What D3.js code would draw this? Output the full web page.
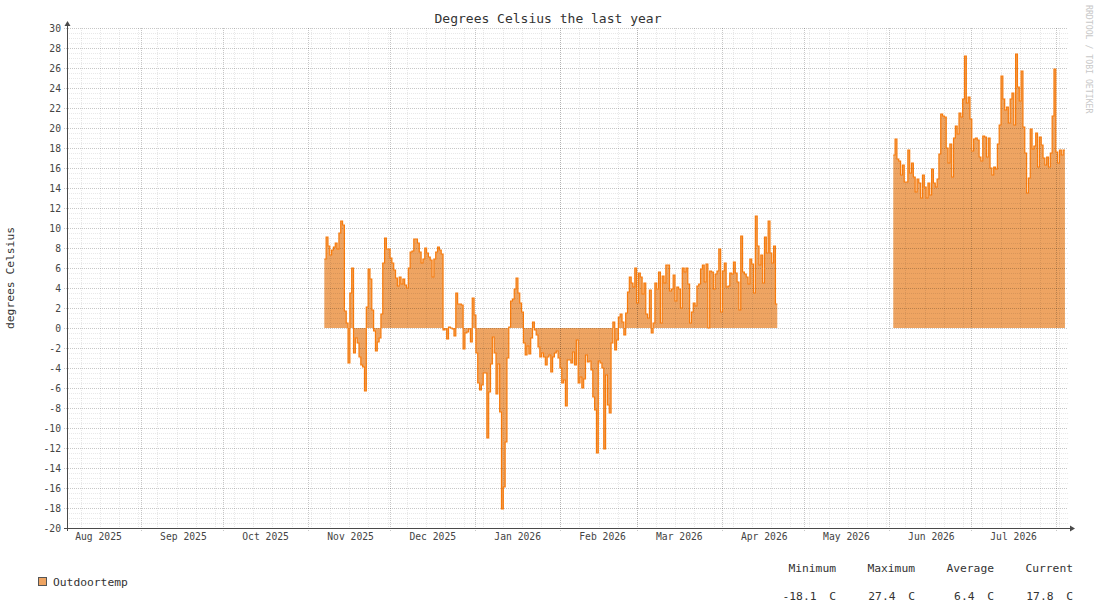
<!DOCTYPE html>
<html lang="en">
<head>
<meta charset="UTF-8">
<title>Degrees Celsius the last year</title>
<script src="https://d3js.org/d3.v7.min.js"></script>
<style>
  body { margin: 0; background: #fff; }
  svg { display: block; font-family: "DejaVu Sans Mono", monospace; }
</style>
</head>
<body>
<script>
// samples every 16 hours
const stepHours = 16;

const winterStart = "2025-11-06T22:00";
const winterTemps = [
  6.9, 9.1, 8.2, 7.3, 7.8, 8.1, 8.5, 7.9, 9.5, 10.7,
  10.3, 1.7, 0.5, -3.5, 3.5, 6.0, -2.5, -1.0, -1.5, -2.9,
  -3.7, -3.9, -6.3, 2.1, 5.9, 4.9, 1.8, -0.3, -2.3, -1.4,
  -1.0, 1.4, 6.5, 9.0, 7.9, 7.9, 7.0, 6.5, 5.8, 5.0,
  4.2, 5.1, 4.4, 4.9, 4.3, 4.0, 6.0, 7.6, 7.7, 8.9,
  8.9, 8.5, 7.6, 6.5, 6.9, 8.0, 7.5, 7.1, 6.8, 5.1,
  6.9, 7.6, 8.1, 7.8, 7.4, -0.2, -0.1, -1.1, 0.1, 0.0,
  -0.1, -0.8, 3.5, 2.4, 2.4, 2.3, -2.1, -0.5, -0.4, -0.1,
  -1.4, 3.0, 1.3, -2.5, -5.5, -6.2, -5.7, -4.5, -4.5, -11.0,
  -6.4, -3.6, -0.9, -2.5, -6.6, -3.6, -8.4, -18.1, -15.9, -11.4,
  -3.0, 0.1, 2.7, 2.9, 3.9, 5.0, 3.5, 2.5, 1.6, -1.5,
  -2.7, -1.8, -2.6, -1.0, 0.6, -0.2, -0.7, -1.9, -2.9, -2.5,
  -2.9, -3.7, -2.9, -2.7, -4.4, -2.9, -2.5, -2.3, -3.0, -4.0,
  -5.5, -5.2, -7.8, -3.2, -3.2, -3.5, -2.4, -3.7, -1.2, -5.5,
  -4.9, -6.0, -5.1, -2.7, -3.4, -3.3, -4.2, -6.9, -8.2, -12.5,
  -3.3, -3.5, -4.0, -12.1, -4.7, -7.7, -8.5, -1.5, 0.6, -2.2,
  -1.2, 1.1, 1.4, 0.6, -0.7, 1.5, 3.6, 5.1, 4.5, 4.1,
  6.0, 2.5, 5.5, 5.1, 3.4, 4.5, 1.4, 1.0, 3.8, -0.5,
  0.5, 4.5, 3.9, 5.6, 0.5, 5.2, 4.5, 6.3, 6.3, 3.7,
  3.9, 5.3, 2.7, 4.1, 3.9, 2.0, 6.0, 5.6, 6.0, 4.4,
  0.5, 1.6, 2.5, 2.2, 4.2, 4.4, 5.9, 6.3, 4.6, 6.4,
  0.0, 5.7, 5.6, 3.9, 5.4, 5.7, 7.9, 1.6, 5.7, 6.5,
  4.1, 4.2, 5.5, 5.4, 6.6, 5.5, 4.6, 1.8, 9.2, 5.6,
  5.4, 5.1, 4.4, 6.9, 6.4, 3.5, 11.2, 8.2, 6.3, 7.3,
  4.5, 9.1, 7.5, 10.7, 7.5, 6.5, 8.2, 2.4
];

const summerStart = "2026-06-02T14:00";
const summerTemps = [
  17.3, 18.9, 16.9, 16.7, 15.3, 16.3, 14.6, 14.6, 17.8, 15.5,
  16.5, 15.1, 13.6, 14.9, 14.5, 13.0, 15.3, 14.1, 13.0, 14.5,
  13.3, 15.9, 14.5, 14.1, 14.9, 17.4, 21.4, 21.2, 21.1, 18.0,
  16.5, 18.4, 15.1, 19.0, 20.2, 19.4, 21.5, 21.1, 22.9, 27.2,
  22.5, 23.1, 20.9, 17.7, 18.9, 19.0, 18.8, 17.1, 16.7, 19.2,
  19.1, 17.1, 19.0, 16.0, 15.3, 16.1, 15.9, 18.4, 20.3, 25.2,
  22.9, 21.8, 22.1, 20.5, 22.9, 23.5, 20.3, 27.4, 24.1, 22.7,
  25.7, 20.1, 17.5, 13.5, 15.0, 19.9, 17.9, 18.2, 19.5, 16.1,
  19.1, 18.3, 17.0, 16.3, 17.1, 16.1, 17.5, 21.2, 25.9, 17.6,
  16.5, 17.8, 17.3, 17.8
];

const months = ["Aug 2025", "Sep 2025", "Oct 2025", "Nov 2025", "Dec 2025", "Jan 2026",
                "Feb 2026", "Mar 2026", "Apr 2026", "May 2026", "Jun 2026", "Jul 2026"];
const yTicks = [-20, -18, -16, -14, -12, -10, -8, -6, -4, -2, 0, 2, 4, 6, 8, 10,
                12, 14, 16, 18, 20, 22, 24, 26, 28, 30];
const statNames = ["Minimum", "Maximum", "Average", "Current"];
const statValues = [-18.1, 27.4, 6.4, 17.8];

const width = 1097, height = 610;
const plotLeft = 67, plotRight = 1067, plotTop = 28, plotBottom = 528;

const fillColor = "#eea462";
const lineColor = "#f77b0c";

const parseT = d3.utcParse("%Y-%m-%dT%H:%M");
const parseM = d3.utcParse("%b %Y");

const x = d3.scaleUtc()
    .domain([Date.UTC(2025, 7, 5), Date.UTC(2026, 7, 5)])
    .range([plotLeft, plotRight]);
const y = d3.scaleLinear().domain([-20, 30]).range([plotBottom, plotTop]);

function toPoints(start, temps) {
    const t0 = parseT(start);
    const pts = temps.map((v, i) => ({ t: d3.utcHour.offset(t0, i * stepHours), v }));
    // close the last step
    pts.push({ t: d3.utcHour.offset(t0, temps.length * stepHours), v: temps[temps.length - 1] });
    return pts;
}
const segments = [toPoints(winterStart, winterTemps), toPoints(summerStart, summerTemps)];

const svg = d3.select("body").append("svg")
    .attr("width", width)
    .attr("height", height);

// area first, grid over it, then the line
const area = d3.area()
    .curve(d3.curveStepAfter)
    .x(d => x(d.t))
    .y0(y(0))
    .y1(d => y(d.v));
const line = d3.line()
    .curve(d3.curveStepAfter)
    .x(d => x(d.t))
    .y(d => y(d.v));

svg.append("g").selectAll("path")
    .data(segments)
    .enter().append("path")
    .attr("d", area)
    .attr("fill", fillColor);

// grid (translucent so it shows faintly through the fill)
const minorGrid = "rgba(0,0,0,0.09)";
const majorGrid = "rgba(0,0,0,0.22)";
const grid = svg.append("g").attr("shape-rendering", "crispEdges");
const minorY = d3.range(-20, 30.01, 0.5).filter(v => v % 2 !== 0);
grid.selectAll(".minorY")
    .data(minorY)
    .enter().append("line")
    .attr("x1", plotLeft).attr("x2", plotRight + 1)
    .attr("y1", d => Math.round(y(d)) + 0.5).attr("y2", d => Math.round(y(d)) + 0.5)
    .attr("stroke", minorGrid)
    .attr("stroke-dasharray", "1,1");

const weeks = d3.utcSunday.range(x.domain()[0], x.domain()[1]);
grid.selectAll(".minorX")
    .data(weeks)
    .enter().append("line")
    .attr("x1", d => Math.round(x(d)) + 0.5).attr("x2", d => Math.round(x(d)) + 0.5)
    .attr("y1", plotTop).attr("y2", plotBottom)
    .attr("stroke", minorGrid)
    .attr("stroke-dasharray", "1,1");

grid.selectAll(".majorY")
    .data(yTicks)
    .enter().append("line")
    .attr("x1", plotLeft - 3).attr("x2", plotRight + 1)
    .attr("y1", d => Math.round(y(d)) + 0.5).attr("y2", d => Math.round(y(d)) + 0.5)
    .attr("stroke", majorGrid)
    .attr("stroke-dasharray", "1,1");

const monthStarts = d3.utcMonth.range(x.domain()[0], x.domain()[1]);
grid.selectAll(".majorX")
    .data(monthStarts)
    .enter().append("line")
    .attr("x1", d => Math.round(x(d)) + 0.5).attr("x2", d => Math.round(x(d)) + 0.5)
    .attr("y1", plotTop).attr("y2", plotBottom + 3)
    .attr("stroke", majorGrid)
    .attr("stroke-dasharray", "1,1");

// outline
svg.append("g").selectAll("path")
    .data(segments)
    .enter().append("path")
    .attr("d", line)
    .attr("fill", "none")
    .attr("stroke", lineColor)
    .attr("stroke-width", 1.2);

// axes with arrows
const axisColor = "#4a4a4a";
svg.append("line")
    .attr("x1", plotLeft + 0.5).attr("x2", plotLeft + 0.5)
    .attr("y1", plotBottom + 3).attr("y2", plotTop - 4)
    .attr("stroke", axisColor);
svg.append("path")
    .attr("d", `M${plotLeft + 0.5},${plotTop - 7} L${plotLeft - 2.5},${plotTop - 2} L${plotLeft + 3.5},${plotTop - 2} Z`)
    .attr("fill", axisColor);
svg.append("line")
    .attr("x1", plotLeft - 3).attr("x2", plotRight + 4)
    .attr("y1", plotBottom + 0.5).attr("y2", plotBottom + 0.5)
    .attr("stroke", axisColor);
svg.append("path")
    .attr("d", `M${plotRight + 8},${plotBottom + 0.5} L${plotRight + 3},${plotBottom - 2.5} L${plotRight + 3},${plotBottom + 3.5} Z`)
    .attr("fill", axisColor);

// y tick labels
svg.append("g").selectAll("text")
    .data(yTicks)
    .enter().append("text")
    .attr("x", plotLeft - 6)
    .attr("y", d => y(d) + 3.5)
    .attr("text-anchor", "end")
    .attr("font-size", 9.7)
    .attr("fill", "#444")
    .text(d => d);

// month labels, centred in mid month
svg.append("g").selectAll("text")
    .data(months)
    .enter().append("text")
    .attr("x", d => x(d3.utcHour.offset(parseM(d), 15 * 24 + 12)))
    .attr("y", 540)
    .attr("text-anchor", "middle")
    .attr("font-size", 9.7)
    .attr("fill", "#444")
    .text(d => d);

// title and axis label
svg.append("text")
    .attr("x", 548).attr("y", 23)
    .attr("text-anchor", "middle")
    .attr("font-size", 13)
    .attr("fill", "#333")
    .text("Degrees Celsius the last year");

svg.append("text")
    .attr("transform", `translate(14,${(plotTop + plotBottom) / 2}) rotate(-90)`)
    .attr("text-anchor", "middle")
    .attr("font-size", 11.3)
    .attr("fill", "#333")
    .text("degrees Celsius");

svg.append("text")
    .attr("transform", "translate(1086,5) rotate(90)")
    .attr("font-size", 8.2)
    .attr("fill", "#c8c8c8")
    .text("RRDTOOL / TOBI OETIKER");

// legend
svg.append("rect")
    .attr("x", 38.5).attr("y", 577.5)
    .attr("width", 8).attr("height", 8)
    .attr("fill", fillColor)
    .attr("stroke", "#555");
svg.append("text")
    .attr("x", 53).attr("y", 586)
    .attr("font-size", 11.3)
    .attr("fill", "#333")
    .text("Outdoortemp");

const stats = svg.append("g").attr("font-size", 11.3).attr("fill", "#333");
statNames.forEach((name, i) => {
    const colRight = 836 + i * 79;
    stats.append("text")
        .attr("x", colRight).attr("y", 572)
        .attr("text-anchor", "end")
        .text(name);
    stats.append("text")
        .attr("x", colRight - 19.5).attr("y", 600)
        .attr("text-anchor", "end")
        .text(statValues[i].toFixed(1));
    stats.append("text")
        .attr("x", colRight).attr("y", 600)
        .attr("text-anchor", "end")
        .text("C");
});
</script>
</body>
</html>
